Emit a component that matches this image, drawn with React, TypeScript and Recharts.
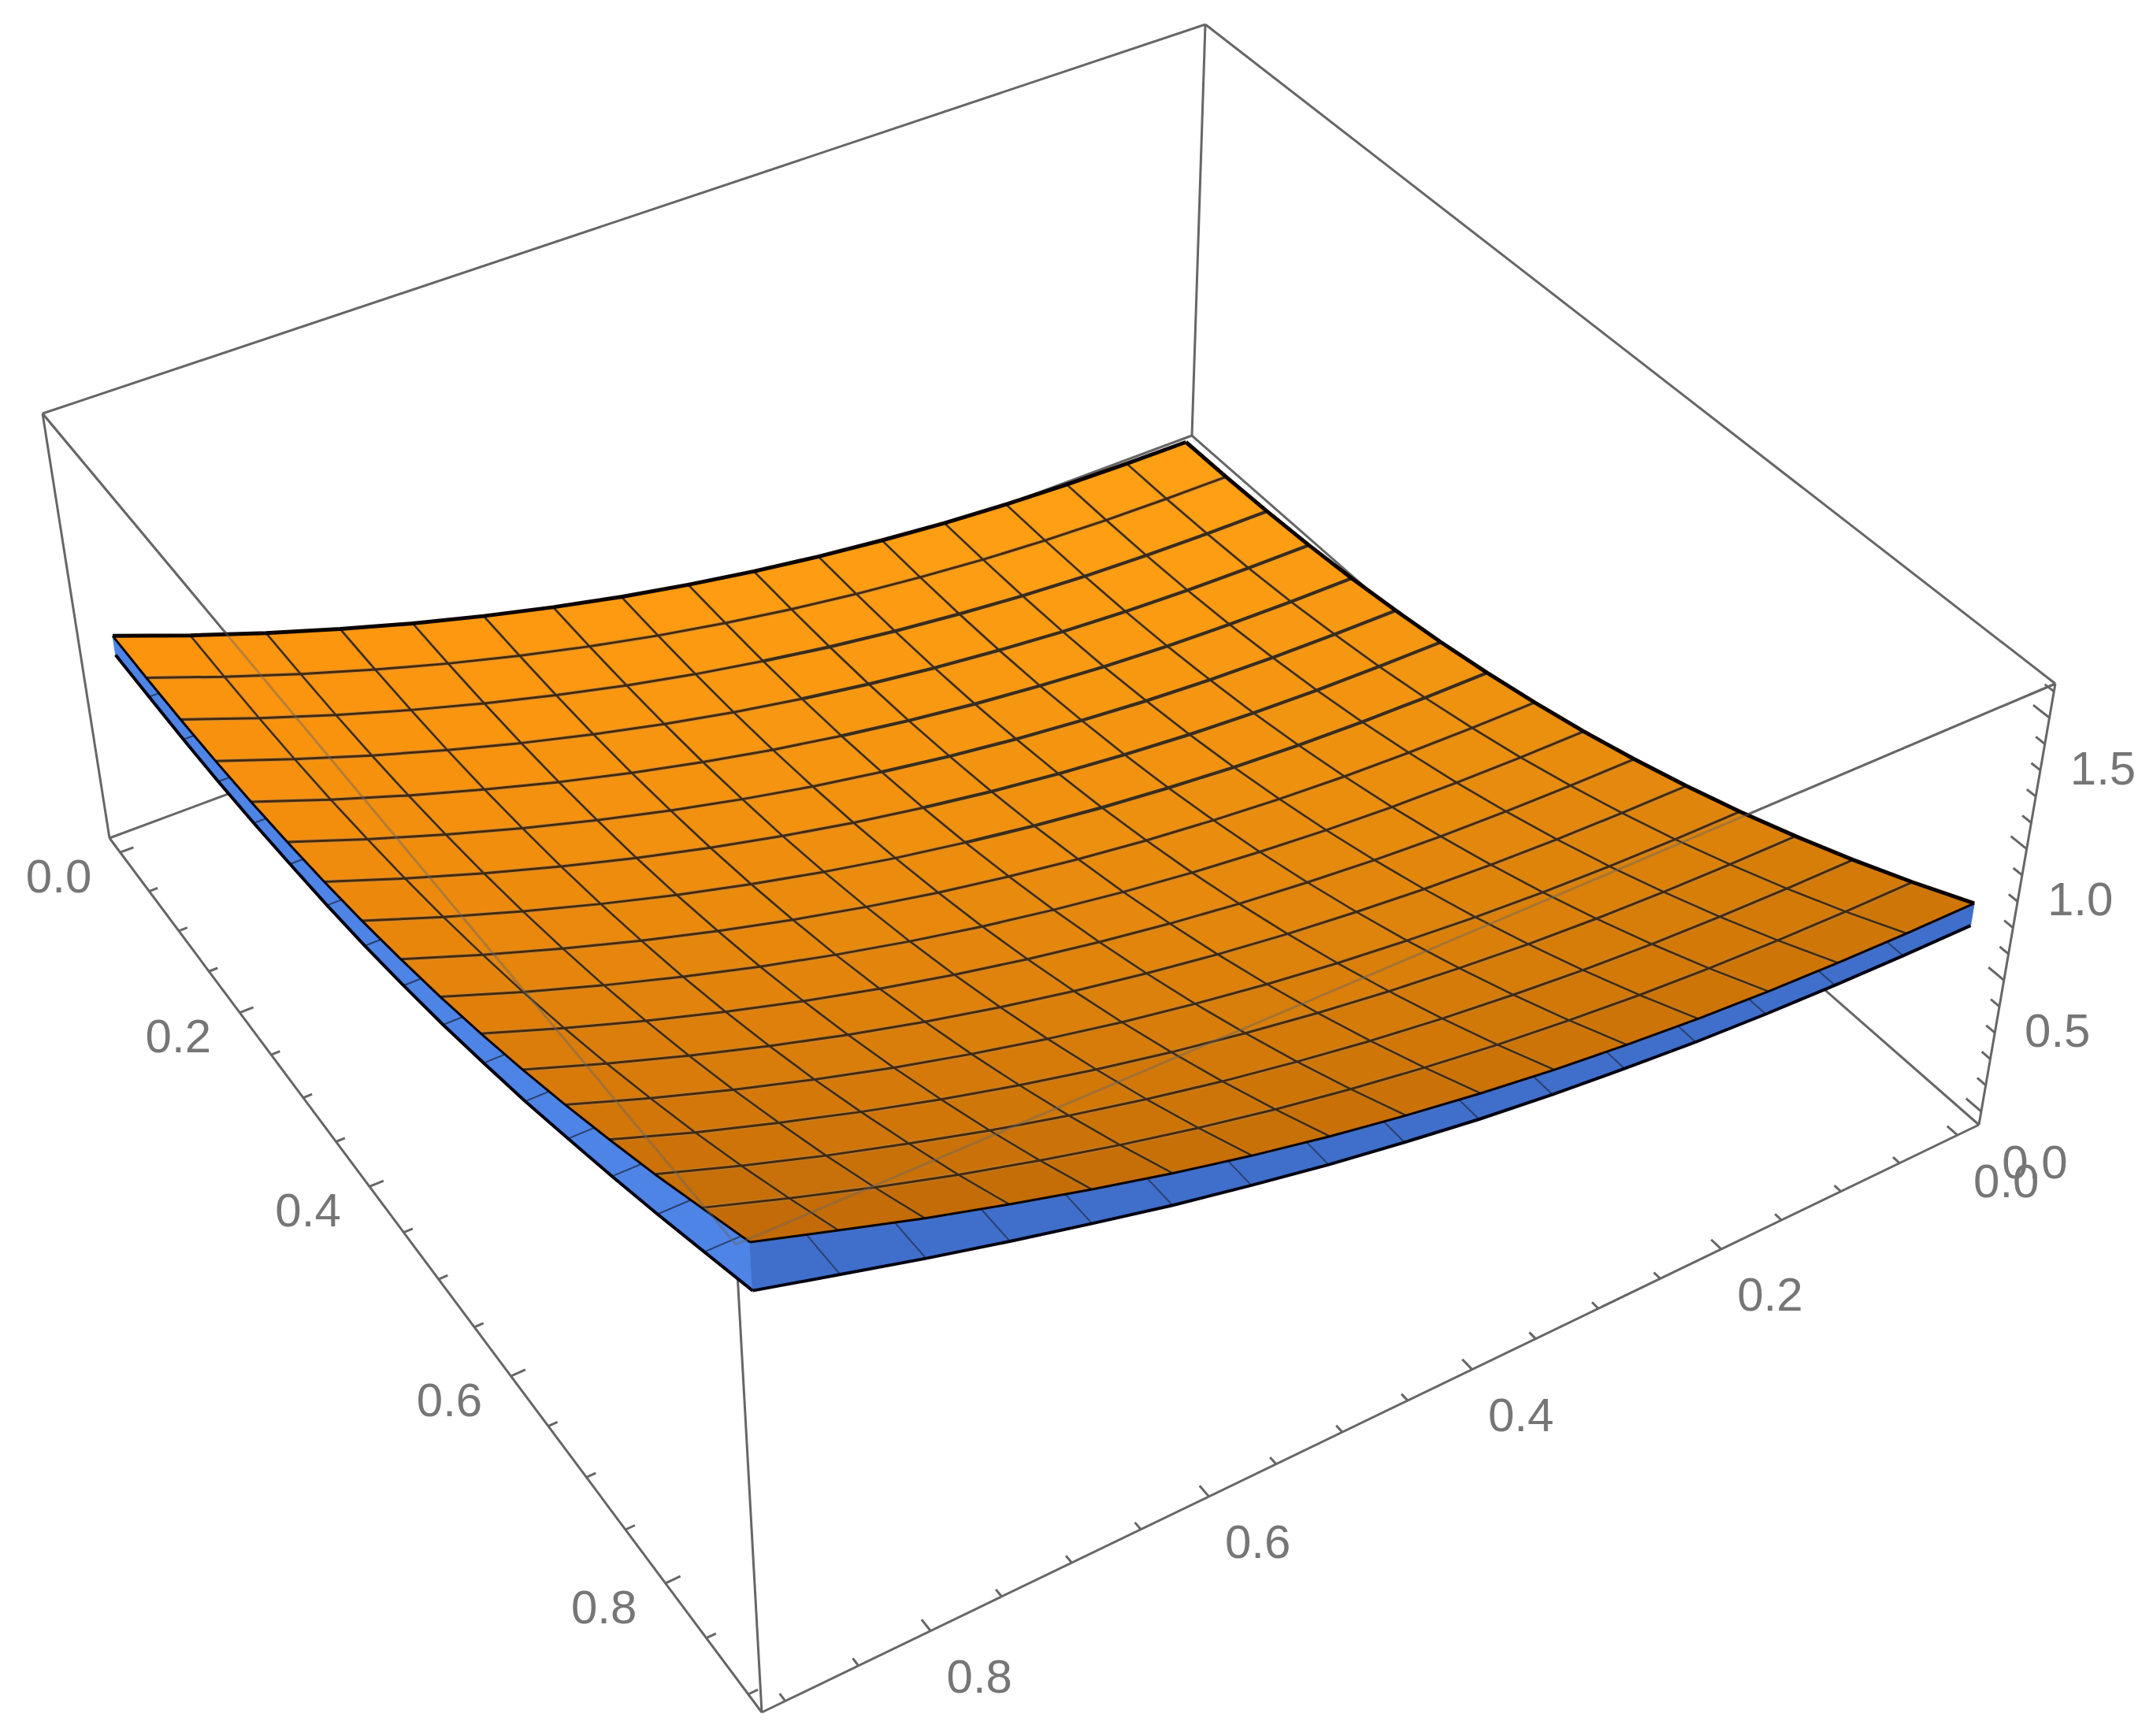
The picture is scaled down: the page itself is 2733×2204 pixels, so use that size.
import React from 'react'
import { ScatterChart, Scatter, XAxis, YAxis } from 'recharts'

const WIDTH = 2733
const HEIGHT = 2204

// box corners as seen on the page: back, right, front, left
const floorCorners = [[1513, 553], [2512, 1428], [967, 2174], [139, 1064]]
const topCorners = [[1530, 31], [2609, 868], [934, 1580], [54, 525]]

// upper surface, read at the mesh crossings (rows along the right-hand axis)
const orangeHeights = [
  [0, .002, .008, .019, .036, .06, .089, .125, .168, .217, .274, .338, .409, .488, .574, .668, .77],
  [.002, .004, .01, .021, .038, .062, .091, .127, .17, .219, .276, .34, .411, .49, .576, .67, .772],
  [.008, .01, .016, .027, .044, .068, .097, .133, .176, .225, .282, .346, .417, .496, .582, .676, .778],
  [.019, .021, .027, .038, .055, .079, .108, .144, .187, .236, .293, .357, .428, .507, .593, .687, .789],
  [.036, .038, .044, .055, .072, .096, .125, .161, .204, .253, .31, .374, .445, .524, .61, .704, .806],
  [.06, .062, .068, .079, .096, .12, .149, .185, .228, .277, .334, .398, .469, .548, .634, .728, .83],
  [.089, .091, .097, .108, .125, .149, .178, .214, .257, .306, .363, .427, .498, .577, .663, .757, .859],
  [.125, .127, .133, .144, .161, .185, .214, .25, .293, .342, .399, .463, .534, .613, .699, .793, .895],
  [.168, .17, .176, .187, .204, .228, .257, .293, .336, .385, .442, .506, .577, .656, .742, .836, .938],
  [.217, .219, .225, .236, .253, .277, .306, .342, .385, .434, .491, .555, .626, .705, .791, .885, .987],
  [.274, .276, .282, .293, .31, .334, .363, .399, .442, .491, .548, .612, .683, .762, .848, .942, 1.044],
  [.338, .34, .346, .357, .374, .398, .427, .463, .506, .555, .612, .676, .747, .826, .912, 1.006, 1.108],
  [.409, .411, .417, .428, .445, .469, .498, .534, .577, .626, .683, .747, .818, .897, .983, 1.077, 1.179],
  [.488, .49, .496, .507, .524, .548, .577, .613, .656, .705, .762, .826, .897, .976, 1.062, 1.154, 1.256],
  [.574, .576, .582, .593, .61, .634, .663, .699, .742, .791, .848, .912, .983, 1.062, 1.146, 1.238, 1.338],
  [.668, .67, .676, .687, .704, .728, .757, .793, .836, .885, .942, 1.006, 1.077, 1.154, 1.238, 1.33, 1.428],
  [.77, .772, .778, .789, .806, .83, .859, .895, .938, .987, 1.044, 1.108, 1.179, 1.256, 1.338, 1.428, 1.52],
]

// lower surface: only its two front edges show under the upper one
const blueLeftEdge = [.695, .697, .7, .709, .724, .745, .769, .8, .838, .882, .934, .99, 1.054, 1.121, 1.192, 1.268, 1.345]
const blueRightEdge = [.685, .687, .693, .703, .718, .74, .766, .798, .838, .882, .934, .99, 1.054, 1.121, 1.192, 1.268, 1.345]

const groundTicks = [0, .05, .1, .15, .2, .25, .3, .35, .4, .45, .5, .55, .6, .65, .7, .75, .8, .85, .9]
const groundLabels = [0, .2, .4, .6, .8]
const heightTicks = [0, .1, .2, .3, .4, .5, .6, .7, .8, .9, 1, 1.1, 1.2, 1.3, 1.4, 1.5, 1.6]
const heightLabels = [0, .5, 1, 1.5]

// mesh lines that print double where the two sheets touch near the back
const doubledLines = [2, 3, 4, 5, 6, 7]

const BOX_GREY = '#666666'
const MESH = '#47290a'
const HALO = '#b58a52'

type Pt = { x: number; y: number }

function squareToQuad(q: number[][]) {
  const [[x0, y0], [x1, y1], [x2, y2], [x3, y3]] = q
  const dx1 = x1 - x2, dx2 = x3 - x2, sx = x0 - x1 + x2 - x3
  const dy1 = y1 - y2, dy2 = y3 - y2, sy = y0 - y1 + y2 - y3
  const den = dx1 * dy2 - dx2 * dy1
  const g = (sx * dy2 - dx2 * sy) / den
  const h = (dx1 * sy - sx * dy1) / den
  const a = x1 - x0 + g * x1, b = x3 - x0 + h * x3
  const d = y1 - y0 + g * y1, e = y3 - y0 + h * y3
  return (u: number, v: number) => {
    const w = g * u + h * v + 1
    return { x: (a * u + b * v + x0) / w, y: (d * u + e * v + y0) / w }
  }
}

const onFloor = squareToQuad(floorCorners)
const onTop = squareToQuad(topCorners)

const project = (u: number, v: number, h: number): Pt => {
  const f = onFloor(u, v)
  const t = onTop(u, v)
  return { x: f.x + (t.x - f.x) * h, y: f.y + (t.y - f.y) * h }
}

// the surface sits 2% inside the box, heights start 3% up
const meshPos = (i: number) => 0.02 + 0.96 * i / 16
const tickPos = (t: number) => 0.02 + 1.07 * t
const heightPos = (z: number) => 0.03 + z / 1.68

const node = (i: number, j: number) => project(meshPos(i), meshPos(j), heightPos(orangeHeights[i][j]))
const range = [...Array(17).keys()]
const cells = [...Array(16).keys()]

const mix = (a: number[], b: number[], t: number) => a.map((c, k) => c + (b[k] - c) * t)
const cellColor = (i: number, j: number) => {
  const u = Math.pow((i + 0.5) / 16, 1.5)
  const v = Math.pow((j + 0.5) / 16, 1.5)
  const back = mix([255, 160, 20], [252, 148, 14], v)
  const front = mix([204, 116, 6], [190, 104, 8], v)
  const c = mix(back, front, u)
  return `rgb(${c.map(Math.round).join(',')})`
}

const NoMark = () => null

const TickLabel = (p: any) => (
  <text
    x={p.cx}
    y={p.cy}
    textAnchor="middle"
    dominantBaseline="central"
    fontFamily="'Liberation Sans', sans-serif"
    fontSize={60}
    fill="#767676"
  >
    {p.payload.label}
  </text>
)

type Seg = { key: string; points: Pt[]; stroke?: string; width?: number; fill?: string; opacity?: number }

const polyline = (s: Seg) => (
  <Scatter
    key={s.key}
    data={s.points}
    shape={NoMark}
    isAnimationActive={false}
    line={{
      stroke: s.stroke ?? s.fill,
      strokeWidth: s.width ?? 1,
      fill: s.fill ?? 'none',
      strokeOpacity: s.opacity ?? 1,
      strokeLinejoin: 'round',
    }}
  />
)

const F = (u: number, v: number) => project(u, v, 0)
const T = (u: number, v: number) => project(u, v, 1)

const behindBox: Seg[] = [
  { key: 'top-lb', points: [T(0, 1), T(0, 0)] },
  { key: 'top-br', points: [T(0, 0), T(1, 0)] },
  { key: 'top-rf', points: [T(1, 0), T(1, 1)] },
  { key: 'top-fl', points: [T(1, 1), T(0, 1)] },
  { key: 'up-b', points: [F(0, 0), T(0, 0)] },
  { key: 'up-l', points: [F(0, 1), T(0, 1)] },
  { key: 'up-r', points: [F(1, 0), T(1, 0)] },
  { key: 'up-f', points: [F(1, 1), T(1, 1)] },
  { key: 'floor-lf', points: [F(0, 1), F(1, 1)] },
  { key: 'floor-fr', points: [F(1, 1), F(1, 0)] },
  { key: 'floor-rb', points: [F(1, 0), F(0, 0)] },
  { key: 'floor-bl', points: [F(0, 0), F(0, 1)] },
].map((s) => ({ ...s, stroke: BOX_GREY, width: 3 }))

const boxTicks: Seg[] = [
  ...groundTicks.map((t) => {
    const len = groundLabels.includes(t) ? 0.011 : 0.007
    return { key: `tl${t}`, points: [F(tickPos(t), 1), F(tickPos(t), 1 - len)] }
  }),
  ...groundTicks.map((t) => {
    const len = groundLabels.includes(t) ? 0.011 : 0.007
    return { key: `tr${t}`, points: [F(1, tickPos(t)), F(1 - len, tickPos(t))] }
  }),
  ...heightTicks.map((z) => {
    const len = heightLabels.includes(z) ? 0.016 : 0.009
    return { key: `tz${z}`, points: [project(1, 0, heightPos(z)), project(1 - len, 0, heightPos(z))] }
  }),
].map((s) => ({ ...s, stroke: BOX_GREY, width: 3 }))

const blueNodeL = (i: number) => project(meshPos(i), meshPos(16), heightPos(blueLeftEdge[i]))
const blueNodeR = (j: number) => project(meshPos(16), meshPos(j), heightPos(blueRightEdge[j]))

const blueStrips: Seg[] = [
  ...cells.map((i) => ({
    key: `bl${i}`,
    points: [node(i, 16), node(i + 1, 16), blueNodeL(i + 1), blueNodeL(i), node(i, 16)],
    fill: '#4d84e6',
    stroke: '#4d84e6',
  })),
  ...cells.map((j) => ({
    key: `br${j}`,
    points: [node(16, j), node(16, j + 1), blueNodeR(j + 1), blueNodeR(j), node(16, j)],
    fill: '#3f6fca',
    stroke: '#3f6fca',
  })),
  // short mesh pieces that run under the upper sheet
  ...range.slice(1, 16).map((i) => ({
    key: `blm${i}`,
    points: [blueNodeL(i), project(meshPos(i), meshPos(15), heightPos(blueLeftEdge[i]))],
    stroke: '#2a3f6e',
    width: 2,
  })),
  ...range.slice(1, 16).map((j) => ({
    key: `brm${j}`,
    points: [blueNodeR(j), project(meshPos(15), meshPos(j), heightPos(blueRightEdge[j]))],
    stroke: '#2a3f6e',
    width: 2,
  })),
  { key: 'ble', points: range.map(blueNodeL), stroke: '#000010', width: 4 },
  { key: 'bre', points: range.map(blueNodeR), stroke: '#000010', width: 4 },
]

const orangeCells: Seg[] = cells.flatMap((i) =>
  cells.map((j) => {
    const c = cellColor(i, j)
    return {
      key: `c${i}-${j}`,
      points: [node(i, j), node(i + 1, j), node(i + 1, j + 1), node(i, j + 1), node(i, j)],
      fill: c,
      stroke: c,
    }
  })
)

const inner = range.slice(1, 16)
const meshLines: Seg[] = [
  ...inner.map((i) => ({ key: `hu${i}`, points: range.map((j) => node(i, j)), stroke: HALO, width: 5, opacity: 0.7 })),
  ...inner.map((j) => ({ key: `hv${j}`, points: range.map((i) => node(i, j)), stroke: HALO, width: 4, opacity: 0.5 })),
  ...inner.map((i) => ({ key: `mu${i}`, points: range.map((j) => node(i, j)), stroke: MESH, width: 3 })),
  ...inner.map((j) => ({ key: `mv${j}`, points: range.map((i) => node(i, j)), stroke: '#3f2a12', width: 2.5 })),
  ...doubledLines.map((i) => ({
    key: `dbl${i}`,
    points: range.slice(0, 9).map((j) => node(i, j)),
    stroke: '#3a2c1a',
    width: 4,
  })),
  { key: 'e-bl', points: range.map((j) => node(0, j)), stroke: '#0c0400', width: 5 },
  { key: 'e-br', points: range.map((i) => node(i, 0)), stroke: '#0c0400', width: 5 },
  { key: 'e-lf', points: range.map((i) => node(i, 16)), stroke: '#0c0400', width: 3 },
  { key: 'e-rf', points: range.map((j) => node(16, j)), stroke: '#0c0400', width: 3 },
]

// front top edges of the box show faintly through the surface
const overBox: Seg[] = [
  { key: 'over-l', points: [T(1, 1), T(0, 1)], stroke: BOX_GREY, width: 3, opacity: 0.45 },
  { key: 'over-r', points: [T(1, 1), T(1, 0)], stroke: BOX_GREY, width: 3, opacity: 0.45 },
]

const fmt = (n: number) => n.toFixed(1)
const shift = (p: Pt, dx: number, dy: number) => ({ x: p.x + dx, y: p.y + dy })

const labelData = [
  ...groundLabels.map((t) => ({ ...shift(F(tickPos(t), 1), -78, 30), label: fmt(t) })),
  ...groundLabels.map((t) => ({ ...shift(F(1, tickPos(t)), 62, 58), label: fmt(t) })),
  ...heightLabels.map((z) => ({ ...shift(project(1, 0, heightPos(z)), 68, 64), label: fmt(z) })),
]

export default function App() {
  return (
    <div style={{ position: 'absolute', left: 0, top: 0, background: '#fff' }}>
      <ScatterChart width={WIDTH} height={HEIGHT} margin={{ top: 0, right: 0, bottom: 0, left: 0 }}>
        <XAxis type="number" dataKey="x" domain={[0, WIDTH]} hide />
        <YAxis type="number" dataKey="y" domain={[0, HEIGHT]} reversed hide />
        {behindBox.map(polyline)}
        {boxTicks.map(polyline)}
        {blueStrips.map(polyline)}
        {orangeCells.map(polyline)}
        {meshLines.map(polyline)}
        {overBox.map(polyline)}
        <Scatter data={labelData} shape={TickLabel} isAnimationActive={false} />
      </ScatterChart>
    </div>
  )
}
